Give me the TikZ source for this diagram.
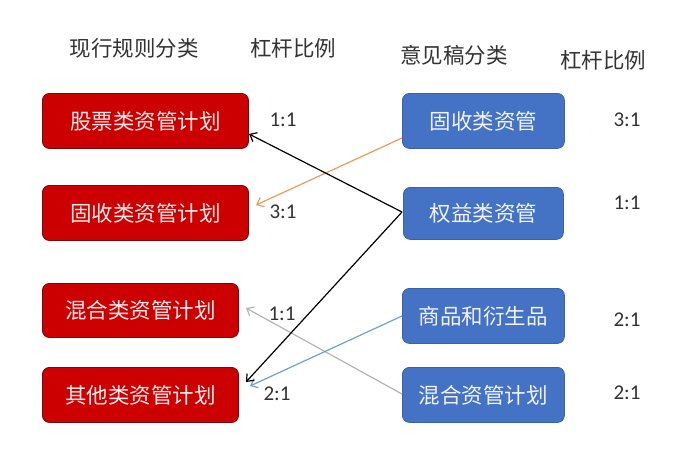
\documentclass[tikz,border=0pt]{standalone}
\usepackage{fontspec}
\newfontfamily\cjk{Noto Sans CJK SC}
\newfontfamily\num{Carlito}
\usetikzlibrary{arrows.meta}
\definecolor{redfill}{HTML}{CC0000}
\definecolor{redline}{HTML}{7A0A0A}
\definecolor{bluefill}{HTML}{4472C4}
\definecolor{blueline}{HTML}{3A62AA}
\definecolor{orangearr}{HTML}{EE9A5E}
\definecolor{grayarr}{HTML}{B4B4B4}
\definecolor{bluearr}{HTML}{6FA0D0}
\definecolor{txt}{HTML}{333333}
\tikzset{
  redbox/.style={draw=redline, line width=0.9pt, fill=redfill, rounded corners=7pt, text=white!92!red, font=\cjk\fontsize{21.5}{21.5}\selectfont, inner sep=0pt, anchor=north west},
  bluebox/.style={draw=blueline, line width=0.8pt, fill=bluefill, rounded corners=7pt, text=white!95!blue, font=\cjk\fontsize{21.5}{21.5}\selectfont, inner sep=0pt, anchor=north west},
  header/.style={font=\cjk\fontsize{21.5}{21.5}\selectfont, text=txt, inner sep=0pt},
  ratio/.style={font=\num\fontsize{21}{21}\selectfont, text=txt, inner sep=0pt},
  conn/.style={-{Straight Barb[length=6pt,width=10pt]}, line width=1.2pt}
}
\begin{document}
\begin{tikzpicture}[x=1pt,y=-1pt]
\useasboundingbox[fill=white] (0,0) rectangle (700,451);
% headers
\node[header] (h1) at (134,48) {现行规则分类};
\node[header] (h2) at (293,48) {杠杆比例};
\node[header] (h3) at (454,55) {意见稿分类};
\node[header] (h4) at (603,60) {杠杆比例};
% left boxes
\node[redbox, minimum width=206pt, minimum height=55pt] (l1) at (42,93) {股票类资管计划};
\node[redbox, minimum width=206pt, minimum height=55pt] (l2) at (42,185) {固收类资管计划};
\node[redbox, minimum width=196pt, minimum height=54pt] (l3) at (42,283) {混合类资管计划};
\node[redbox, minimum width=196pt, minimum height=55pt] (l4) at (42,367) {其他类资管计划};
% right boxes
\node[bluebox, minimum width=162pt, minimum height=55pt] (r1) at (402,93) {固收类资管};
\node[bluebox, minimum width=160pt, minimum height=52pt] (r2) at (403,187) {权益类资管};
\node[bluebox, minimum width=162pt, minimum height=55pt] (r3) at (402,288) {商品和衍生品};
\node[bluebox, minimum width=162pt, minimum height=55pt] (r4) at (402,367) {混合资管计划};
% ratios
\node[ratio] (a1) at (283,120) {1:1};
\node[ratio] (a2) at (283,212) {3:1};
\node[ratio] (a3) at (282,314) {1:1};
\node[ratio] (a4) at (277,394) {2:1};
\node[ratio] (b1) at (627,120) {3:1};
\node[ratio] (b2) at (627,203) {1:1};
\node[ratio] (b3) at (627,320) {2:1};
\node[ratio] (b4) at (627,393) {2:1};
% connector endpoints
\coordinate (t1) at (249,134);
\coordinate (t2) at (256,205);
\coordinate (t3) at (246,308);
\coordinate (t4) at (246,382);
\coordinate (t5) at (250,386);
\coordinate (s2) at (402,212);
\coordinate (s1) at (402,138);
\coordinate (s3) at (402,316);
\coordinate (s4) at (402,394);
% connectors
\draw[conn, grayarr] (s4) -- (t3);
\draw[conn, orangearr] (s1) -- (t2);
\draw[conn, bluearr] (s3) -- (t5);
\draw[conn, black] (s2) -- (t1);
\draw[conn, black] (s2) -- (t4);
\end{tikzpicture}
\end{document}
